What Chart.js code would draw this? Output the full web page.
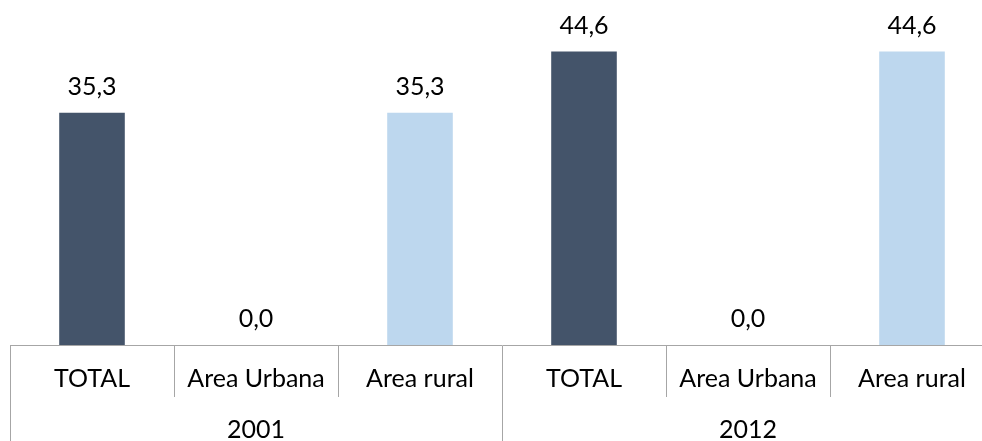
<!DOCTYPE html>
<html>

<head>
    <title>Total 2001 - 2012</title>
    <script src="https://cdn.jsdelivr.net/npm/chart.js@4.4.1/dist/chart.umd.min.js"></script>
    <style>
        html, body { margin: 0; padding: 0; overflow: hidden; background: #fff; }
        .box { position: absolute; left: 0; top: 0; width: 994px; height: 446px; }
    </style>
</head>

<body>
    <div class="box">
        <canvas id="myChart"></canvas>
    </div>

    <script>
        // data
        const areas = ['TOTAL', 'Area Urbana', 'Area rural', 'TOTAL', 'Area Urbana', 'Area rural'];
        const years = ['2001', '2012'];
        const values = [35.3, 0.0, 35.3, 44.6, 0.0, 44.6];
        const barColors = ['#44546A', '#BDD7EE', '#BDD7EE', '#44546A', '#BDD7EE', '#BDD7EE'];

        // year label sits on the middle category of each group of 3
        let yearLabels = [];
        for (ix in years) {
            yearLabels.push('', years[ix], '');
        }

        const lineGrey = '#A6A6A6';
        const txtFont = { family: 'Lato', size: 25, lineHeight: 1.2 };

        // draws "35,3" style numbers above each bar
        const valueLabels = {
            id: 'valueLabels',
            afterDatasetsDraw(chart) {
                const ctx = chart.ctx;
                ctx.save();
                ctx.font = '25px Lato';
                ctx.fillStyle = '#000';
                ctx.textAlign = 'center';
                ctx.textBaseline = 'middle';
                chart.getDatasetMeta(0).data.forEach(function (bar, i) {
                    let v = chart.data.datasets[0].data[i];
                    ctx.fillText(v.toFixed(1).replace('.', ','), bar.x, bar.y - 26);
                });
                ctx.restore();
            }
        };

        const ctx = document.getElementById('myChart');
        const myChart = new Chart(ctx, {
            type: 'bar',
            data: {
                labels: areas,
                datasets: [{
                    data: values,
                    backgroundColor: barColors,
                    borderWidth: 0,
                    categoryPercentage: 1,
                    barPercentage: 0.4
                }]
            },
            plugins: [valueLabels],
            options: {
                responsive: true,
                maintainAspectRatio: false,
                animation: false,
                layout: { padding: { top: 16, left: 10, right: 0, bottom: 0 } },
                plugins: {
                    legend: { display: false },
                    tooltip: { enabled: false }
                },
                scales: {
                    y: {
                        display: false,
                        min: 0,
                        max: 50
                    },
                    x: {
                        position: 'bottom',
                        offset: true,
                        grid: {
                            offset: true,
                            drawOnChartArea: false,
                            tickLength: 52,
                            color: lineGrey
                        },
                        border: { display: true, color: lineGrey },
                        ticks: {
                            font: txtFont,
                            color: '#000',
                            padding: -33,
                            autoSkip: false,
                            maxRotation: 0
                        },
                        afterFit: function (scale) { scale.height = 52; }
                    },
                    x2: {
                        type: 'category',
                        position: 'bottom',
                        labels: yearLabels,
                        offset: true,
                        grid: {
                            offset: true,
                            drawOnChartArea: false,
                            tickLength: 49,
                            color: function (c) {
                                // only group edges get a line
                                if (c.type !== 'tick' || c.index % 3 === 0) return lineGrey;
                                return 'rgba(0,0,0,0)';
                            }
                        },
                        border: { display: false },
                        ticks: {
                            font: txtFont,
                            color: '#000',
                            padding: -31,
                            autoSkip: false,
                            maxRotation: 0
                        },
                        afterFit: function (scale) { scale.height = 49; }
                    }
                }
            }
        });
    </script>
</body>

</html>
